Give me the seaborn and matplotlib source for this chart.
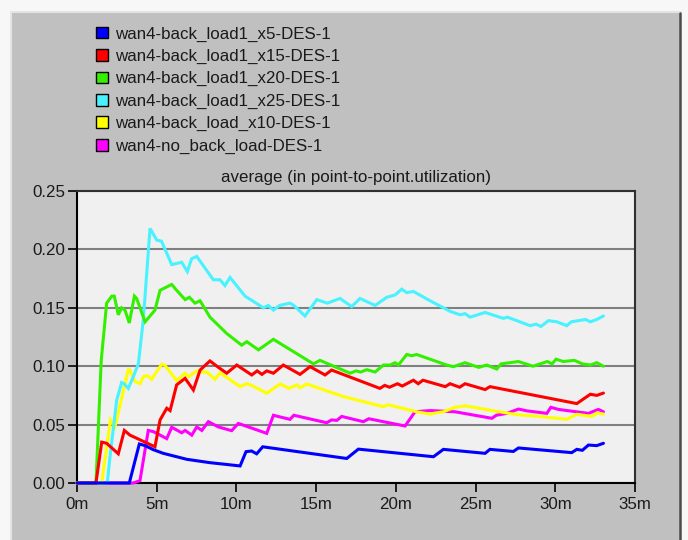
import matplotlib
matplotlib.use("Agg")
import matplotlib.pyplot as plt
from matplotlib.patches import Rectangle, Patch
from matplotlib.lines import Line2D
import numpy as np
import pandas as pd
import seaborn as sns

sns.set_theme(style="white")
plt.rcParams["font.family"] = ["Liberation Sans", "DejaVu Sans"]

# ---- data: average point-to-point utilization vs simulated time (minutes) ----
scenarios = [
    "wan4-back_load1_x5-DES-1",
    "wan4-back_load1_x15-DES-1",
    "wan4-back_load1_x20-DES-1",
    "wan4-back_load1_x25-DES-1",
    "wan4-back_load_x10-DES-1",
    "wan4-no_back_load-DES-1",
]
colors = ["#0000ff", "#ff0000", "#33f000", "#48f2ff", "#ffff00", "#ff00ff"]

x5_t = [0, 3.28, 3.91, 4.27, 4.79, 5.41, 6.88, 8.34, 9.3, 10.23, 10.6, 10.95, 11.27,
        11.65, 16.92, 17.65, 22.36, 22.98, 25.6, 25.9, 27.37, 27.69, 31.03, 31.35,
        31.7, 32.08, 32.6, 33.02]
x5_v = [0, 0, 0.0334, 0.032, 0.0285, 0.0254, 0.0203, 0.0174, 0.016, 0.0146, 0.0268,
        0.0274, 0.025, 0.031, 0.021, 0.029, 0.0225, 0.0288, 0.0254, 0.0288, 0.027,
        0.030, 0.026, 0.0288, 0.028, 0.0325, 0.032, 0.034]

x15_t = [0, 1.19, 1.55, 1.86, 2.59, 2.97, 3.32, 4.89, 5.21, 5.63, 5.84, 6.25, 6.78,
         7.30, 7.72, 8.34, 8.87, 9.39, 10.02, 10.96, 11.3, 11.6, 11.9, 12.32, 12.94,
         13.99, 14.62, 15.56, 15.97, 19.0, 19.3, 19.6, 20.1, 20.4, 21.1, 21.4, 21.7,
         23.1, 23.4, 24.0, 24.34, 25.6, 25.9, 31.35, 32.2, 32.6, 33.02]
x15_v = [0, 0, 0.035, 0.034, 0.025, 0.045, 0.041, 0.031, 0.054, 0.064, 0.062, 0.084,
         0.0896, 0.0796, 0.0967, 0.1045, 0.099, 0.094, 0.101, 0.0925, 0.096, 0.093,
         0.096, 0.094, 0.101, 0.093, 0.0996, 0.0925, 0.0967, 0.081, 0.0836, 0.082,
         0.085, 0.083, 0.088, 0.085, 0.088, 0.0825, 0.085, 0.082, 0.085, 0.080,
         0.0825, 0.068, 0.076, 0.075, 0.077]

x20_t = [0, 1.19, 1.52, 1.86, 2.18, 2.34, 2.59, 2.80, 3.01, 3.28, 3.60, 3.74, 4.27,
         4.89, 5.21, 5.94, 6.25, 6.78, 7.05, 7.40, 7.72, 8.34, 9.39, 10.33, 10.65,
         11.38, 12.32, 14.83, 15.24, 17.13, 17.5, 17.8, 18.17, 18.7, 19.22, 19.64,
         19.95, 20.16, 20.68, 20.99, 21.31, 23.19, 23.61, 24.34, 25.2, 25.7, 26.33,
         26.6, 27.69, 28.6, 29.5, 29.8, 30.05, 30.5, 31.2, 31.7, 32.2, 32.6, 33.02]
x20_v = [0, 0, 0.105, 0.154, 0.160, 0.160, 0.144, 0.150, 0.148, 0.137, 0.160, 0.158,
         0.138, 0.148, 0.165, 0.170, 0.165, 0.157, 0.159, 0.154, 0.156, 0.142, 0.128,
         0.118, 0.121, 0.114, 0.123, 0.102, 0.105, 0.094, 0.096, 0.095, 0.097, 0.095,
         0.101, 0.101, 0.103, 0.101, 0.110, 0.109, 0.110, 0.101, 0.0996, 0.103, 0.099,
         0.101, 0.0976, 0.102, 0.104, 0.100, 0.104, 0.102, 0.106, 0.104, 0.105, 0.102,
         0.101, 0.103, 0.100]

x25_t = [0, 1.9, 2.07, 2.49, 2.80, 2.95, 3.22, 3.53, 3.85, 4.16, 4.58, 5.0, 5.3, 5.94,
         6.57, 6.92, 7.19, 7.51, 8.55, 8.97, 9.28, 9.6, 10.54, 11.69, 12.0, 12.32,
         12.7, 13.36, 13.6, 14.3, 15.04, 15.7, 16.5, 17.23, 17.75, 18.7, 19.43, 19.95,
         20.37, 20.68, 21.1, 22.15, 23.4, 24.03, 24.34, 24.65, 25.6, 26.74, 27.0,
         28.42, 28.8, 29.1, 29.57, 30.1, 30.72, 31.0, 31.9, 32.2, 32.6, 33.02]
x25_v = [0, 0, 0.0225, 0.071, 0.086, 0.085, 0.081, 0.091, 0.102, 0.140, 0.218, 0.208,
         0.207, 0.187, 0.189, 0.181, 0.192, 0.194, 0.174, 0.174, 0.169, 0.176, 0.160,
         0.150, 0.152, 0.148, 0.152, 0.154, 0.152, 0.143, 0.157, 0.154, 0.158, 0.151,
         0.158, 0.152, 0.159, 0.161, 0.166, 0.163, 0.164, 0.156, 0.147, 0.144, 0.145,
         0.142, 0.146, 0.141, 0.142, 0.1347, 0.136, 0.134, 0.139, 0.138, 0.1347,
         0.138, 0.140, 0.138, 0.140, 0.143]

x10_t = [0, 1.55, 2.1, 2.38, 3.22, 3.30, 3.64, 3.95, 4.16, 4.4, 4.68, 5.31, 5.5, 6.25,
         6.78, 7.0, 7.51, 7.7, 8.13, 8.66, 8.97, 10.23, 10.65, 10.95, 11.9, 12.74,
         13.3, 13.78, 14.0, 14.41, 16.7, 19.22, 19.5, 21.31, 22.15, 22.5, 22.98,
         23.71, 24.34, 27.37, 28.0, 28.8, 30.72, 31.35, 32.3, 32.6, 33.02]
x10_v = [0, 0, 0.054, 0.048, 0.097, 0.097, 0.0868, 0.085, 0.091, 0.092, 0.0888,
         0.1016, 0.101, 0.0876, 0.094, 0.091, 0.096, 0.095, 0.095, 0.0888, 0.0944,
         0.0825, 0.085, 0.0836, 0.0768, 0.0848, 0.081, 0.084, 0.0816, 0.0848, 0.074,
         0.0653, 0.067, 0.061, 0.059, 0.060, 0.061, 0.0648, 0.066, 0.059, 0.058,
         0.0573, 0.0545, 0.0588, 0.057, 0.060, 0.059]

nobg_t = [0, 3.53, 3.95, 4.47, 4.79, 5.21, 5.63, 5.94, 6.57, 6.78, 7.2, 7.51, 7.83,
          8.24, 8.87, 9.7, 10.12, 11.9, 12.32, 12.6, 13.36, 13.6, 15.66, 15.97, 16.3,
          16.6, 17.96, 18.3, 20.58, 21.2, 22.15, 23.7, 26.02, 26.3, 26.96, 27.69,
          28.2, 29.47, 29.72, 30.2, 32.08, 32.7, 33.02]
nobg_v = [0, 0, 0.002, 0.045, 0.044, 0.041, 0.038, 0.0477, 0.043, 0.045, 0.041, 0.048,
          0.045, 0.0525, 0.048, 0.0448, 0.051, 0.0425, 0.058, 0.057, 0.0545, 0.058,
          0.0516, 0.054, 0.0536, 0.057, 0.0525, 0.055, 0.0488, 0.061, 0.062, 0.061,
          0.0554, 0.058, 0.0596, 0.0633, 0.0618, 0.0596, 0.0648, 0.063, 0.0596, 0.063,
          0.061]

x_ticks = [0, 5, 10, 15, 20, 25, 30, 35]
x_tick_labels = ["0m", "5m", "10m", "15m", "20m", "25m", "30m", "35m"]
y_ticks = [0.00, 0.05, 0.10, 0.15, 0.20, 0.25]
y_tick_labels = ["0.00", "0.05", "0.10", "0.15", "0.20", "0.25"]
title = "average (in point-to-point.utilization)"

series = [(x5_t, x5_v), (x15_t, x15_v), (x20_t, x20_v),
          (x25_t, x25_v), (x10_t, x10_v), (nobg_t, nobg_v)]
df = pd.concat(
    [pd.DataFrame({"time": t, "util": v, "scenario": name})
     for name, (t, v) in zip(scenarios, series)],
    ignore_index=True,
)
palette = dict(zip(scenarios, colors))

# ---- figure frame ----
W, H = 688, 540
fig = plt.figure(figsize=(W / 100, H / 100), dpi=100)
fig.patch.set_facecolor("#f7f7f7")


def fx(px):
    return px / W


def fy(py):
    return 1 - py / H


fig.patches.append(Rectangle((fx(12), 0), fx(680) - fx(12), fy(13),
                             transform=fig.transFigure, facecolor="#c0c0c0",
                             edgecolor="none", zorder=-10))
fig.lines.append(Line2D([fx(11), fx(11)], [0, fy(12)], transform=fig.transFigure,
                        color="#e4e4e4", lw=1.5))
fig.lines.append(Line2D([fx(11), fx(681)], [fy(12), fy(12)], transform=fig.transFigure,
                        color="#e4e4e4", lw=1.5))
fig.lines.append(Line2D([fx(680), fx(680)], [0, fy(13)], transform=fig.transFigure,
                        color="#4a4a4a", lw=1.8))

# ---- plot area ----
ax = fig.add_axes([fx(77), fy(483), fx(635) - fx(77), fy(191) - fy(483)])
ax.set_facecolor("#f0f0f0")

sns.lineplot(data=df, x="time", y="util", hue="scenario",
             hue_order=scenarios[::-1], palette=palette, estimator=None,
             sort=False, linewidth=2.2, legend=False, ax=ax)
for ln in ax.get_lines():
    ln.set_zorder(3)
    ln.set_clip_on(False)
    ln.set_solid_joinstyle("miter")

ax.set_xlim(0, 35)
ax.set_ylim(0, 0.25)
ax.set_xticks(x_ticks)
ax.set_xticklabels(x_tick_labels)
ax.set_yticks(y_ticks)
ax.set_yticklabels(y_tick_labels)
ax.set_xlabel("")
ax.set_ylabel("")

ax.yaxis.grid(True, color="#808080", linewidth=1.5)
ax.xaxis.grid(False)
ax.set_axisbelow(True)

for side in ["left", "bottom"]:
    ax.spines[side].set_color("black")
    ax.spines[side].set_linewidth(1.5)
for side in ["top", "right"]:
    ax.spines[side].set_color("#303030")
    ax.spines[side].set_linewidth(1.5)

ax.tick_params(axis="both", which="major", direction="out", bottom=True, left=True,
               length=6.5, width=1.2, color="black", labelsize=12.2,
               labelcolor="#1a1a1a")
ax.tick_params(axis="x", pad=3.5)
ax.tick_params(axis="y", pad=2)

ax.set_title(title, fontsize=12.2, color="#1a1a1a", pad=6.5)

handles = [Patch(facecolor=c, edgecolor="black", linewidth=1.0) for c in colors]
fig.legend(handles, scenarios, loc="upper left",
           bbox_to_anchor=(fx(96), fy(26.5)), frameon=False, fontsize=12.2,
           handlelength=0.68, handleheight=0.68, handletextpad=0.42,
           labelspacing=0.43, borderpad=0, borderaxespad=0,
           labelcolor="#1a1a1a")

fig.savefig("out.png", dpi=100, facecolor=fig.get_facecolor())
